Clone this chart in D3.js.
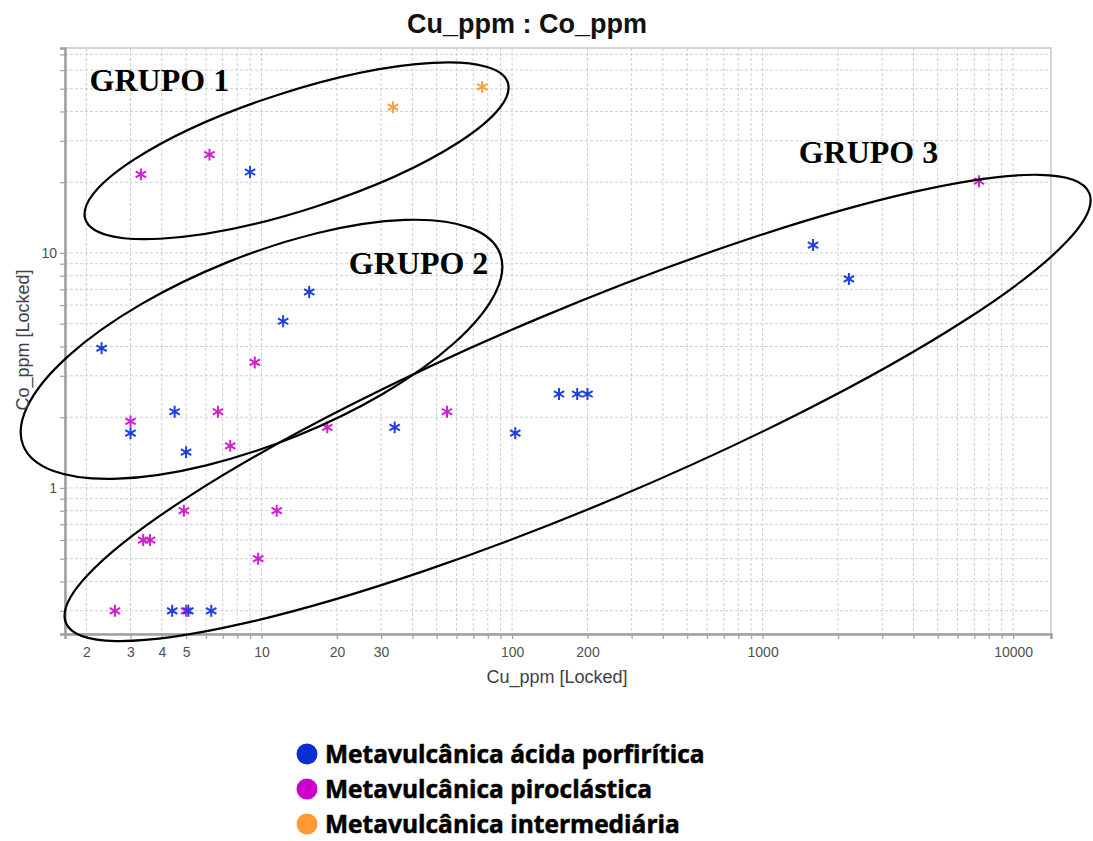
<!DOCTYPE html>
<html>
<head>
<meta charset="utf-8">
<script src="https://cdn.jsdelivr.net/npm/d3@7"></script>
<style>
  body { margin: 0; background: #fff; }
  svg { display: block; }
</style>
</head>
<body>
<div id="chart"></div>
<script>
// Cu_ppm vs Co_ppm, log-log scatter with hand drawn groups

const svgWidth = 1093;
const svgHeight = 841;
const margin = { top: 48, right: 42, bottom: 207, left: 65 };
const width = svgWidth - margin.left - margin.right;
const height = svgHeight - margin.top - margin.bottom;

// ---- data ----
const seriesNames = ["Metavulcânica ácida porfirítica", "Metavulcânica piroclástica", "Metavulcânica intermediária"];
const seriesColors = ["#1f3fe0", "#d020d0", "#f7a040"];
const legendColors = ["#0a2fd0", "#cc00cc", "#ff9933"];

const acidaCu = [9.0, 2.3, 3.0, 4.5, 5.0, 12.2, 15.5, 34, 103, 154, 182, 200, 1590, 2210, 4.4, 5.1, 6.3];
const acidaCo = [22.1, 3.93, 1.71, 2.11, 1.42, 5.12, 6.82, 1.81, 1.71, 2.51, 2.51, 2.51, 10.8, 7.75, 0.3, 0.3, 0.3];

const piroCu = [3.3, 6.2, 3.0, 6.7, 7.5, 9.4, 18.3, 55, 7310, 4.9, 11.5, 3.37, 3.59, 9.7, 2.6, 5.0];
const piroCo = [21.6, 26.2, 1.92, 2.11, 1.51, 3.42, 1.81, 2.11, 20.2, 0.8, 0.8, 0.6, 0.6, 0.5, 0.3, 0.3];

const interCu = [33.5, 76];
const interCo = [41.7, 50.9];

const xDomain = [1.643, 14160];
const yDomain = [0.239, 74.5];
const xTickLabels = [2, 3, 4, 5, 10, 20, 30, 100, 200, 1000, 10000];
const yTickLabels = [1, 10];

// group outlines: centre in data units
const groupNames = ["GRUPO 1", "GRUPO 2", "GRUPO 3"];
const groupCenterCu = [13.8, 10, 182.6];
const groupCenterCo = [27.2, 3.89, 2.19];
const groupLabelCu = [2.06, 22.3, 1393];
const groupLabelCo = [48.7, 8.14, 24.15];
const groupRx = [222, 257, 555];
const groupRy = [59, 93.5, 97.7];
const groupAngle = [-17.9, -22, -22.8];

// grid values: every 1..9 step of each decade inside the domain
function logSteps(lo, hi) {
    const out = [];
    for (let e = -2; e <= 5; e++) {
        for (let m = 1; m <= 9; m++) {
            const v = m * Math.pow(10, e);
            if (v >= lo && v <= hi) out.push(+v.toPrecision(3));
        }
    }
    return out;
}

const svg = d3.select("#chart")
    .append("svg")
    .attr("width", svgWidth)
    .attr("height", svgHeight);

const g = svg.append("g")
    .attr("transform", `translate(${margin.left},${margin.top})`);

const xScale = d3.scaleLog().domain(xDomain).range([0, width]);
const yScale = d3.scaleLog().domain(yDomain).range([height, 0]);

const xGridVals = logSteps(xDomain[0], xDomain[1]);
const yGridVals = logSteps(yDomain[0], yDomain[1]);

// grid
g.append("g")
    .attr("class", "grid")
    .selectAll("line.gx")
    .data(xGridVals)
    .enter()
    .append("line")
    .attr("x1", d => xScale(d)).attr("x2", d => xScale(d))
    .attr("y1", 0).attr("y2", height)
    .attr("stroke", "#cfcfcf")
    .attr("stroke-dasharray", "3,2");

g.append("g")
    .attr("class", "grid")
    .selectAll("line.gy")
    .data(yGridVals)
    .enter()
    .append("line")
    .attr("x1", 0).attr("x2", width)
    .attr("y1", d => yScale(d)).attr("y2", d => yScale(d))
    .attr("stroke", "#cfcfcf")
    .attr("stroke-dasharray", "3,2");

// frame top / right
g.append("rect")
    .attr("width", width)
    .attr("height", height)
    .attr("fill", "none")
    .attr("stroke", "#c8c8c8")
    .attr("stroke-width", 1.5);

// axes
const xAxis = d3.axisBottom(xScale)
    .tickValues(xGridVals)
    .tickSize(5)
    .tickFormat(d => xTickLabels.includes(d) ? d : "");

const yAxis = d3.axisLeft(yScale)
    .tickValues(yGridVals)
    .tickSize(5)
    .tickFormat(d => yTickLabels.includes(d) ? d : "");

const xg = g.append("g")
    .attr("class", "x-axis")
    .attr("transform", `translate(0,${height})`)
    .call(xAxis);

const yg = g.append("g")
    .attr("class", "y-axis")
    .call(yAxis);

[xg, yg].forEach(ax => {
    ax.select(".domain").attr("stroke", "#a0a0a0").attr("stroke-width", 2.5);
    ax.selectAll(".tick line").attr("stroke", "#a0a0a0").attr("stroke-width", 1.2);
    ax.selectAll(".tick text")
        .attr("fill", "#505050")
        .style("font-family", "'Liberation Sans', Arial, sans-serif")
        .style("font-size", "14px");
});
xg.selectAll(".tick text").attr("dy", "1.1em");

// points
const symbol = d3.symbol().type(d3.symbolAsterisk).size(100);
const series = [
    { cu: piroCu, co: piroCo, color: seriesColors[1] },
    { cu: acidaCu, co: acidaCo, color: seriesColors[0] },
    { cu: interCu, co: interCo, color: seriesColors[2] }
];

series.forEach(s => {
    g.append("g")
        .selectAll("path")
        .data(s.cu.map((c, i) => ({ cu: c, co: s.co[i] })))
        .enter()
        .append("path")
        .attr("d", symbol)
        .attr("transform", d => `translate(${xScale(d.cu)},${yScale(d.co)})`)
        .attr("fill", "none")
        .attr("stroke", s.color)
        .attr("stroke-width", 2);
});

// hand drawn group ellipses
groupNames.forEach((name, i) => {
    const cx = xScale(groupCenterCu[i]);
    const cy = yScale(groupCenterCo[i]);
    g.append("ellipse")
        .attr("transform", `translate(${cx},${cy}) rotate(${groupAngle[i]})`)
        .attr("rx", groupRx[i])
        .attr("ry", groupRy[i])
        .attr("fill", "none")
        .attr("stroke", "#000")
        .attr("stroke-width", 2.2);

    g.append("text")
        .attr("x", xScale(groupLabelCu[i]))
        .attr("y", yScale(groupLabelCo[i]))
        .style("font-family", "'Liberation Serif', 'Times New Roman', serif")
        .style("font-weight", "bold")
        .style("font-size", "32px")
        .attr("fill", "#000")
        .text(name);
});

// title
svg.append("text")
    .attr("x", 527)
    .attr("y", 33)
    .attr("text-anchor", "middle")
    .style("font-family", "'Liberation Sans', Arial, sans-serif")
    .style("font-weight", "bold")
    .style("font-size", "27px")
    .attr("fill", "#111")
    .text("Cu_ppm : Co_ppm");

// axis titles
svg.append("text")
    .attr("x", 557)
    .attr("y", 683)
    .attr("text-anchor", "middle")
    .style("font-family", "'Liberation Sans', Arial, sans-serif")
    .style("font-size", "18px")
    .attr("fill", "#404048")
    .text("Cu_ppm [Locked]");

svg.append("text")
    .attr("transform", "translate(29,340) rotate(-90)")
    .attr("text-anchor", "middle")
    .style("font-family", "'Liberation Sans', Arial, sans-serif")
    .style("font-size", "18px")
    .attr("fill", "#404048")
    .text("Co_ppm [Locked]");

// legend
const legend = svg.append("g")
    .attr("transform", "translate(307,754)");

seriesNames.forEach((name, i) => {
    const row = legend.append("g").attr("transform", `translate(0,${i * 35})`);
    row.append("circle")
        .attr("r", 10.5)
        .attr("fill", legendColors[i]);
    row.append("text")
        .attr("x", 18)
        .attr("y", 8.5)
        .style("font-family", "'Open Sans', Lato, sans-serif")
        .style("font-weight", "bold")
        .style("font-size", "24.5px")
        .style("paint-order", "stroke")
        .attr("stroke", "#2a1a0a")
        .attr("stroke-width", 0.6)
        .attr("fill", "#000")
        .text(name);
});
</script>
</body>
</html>
